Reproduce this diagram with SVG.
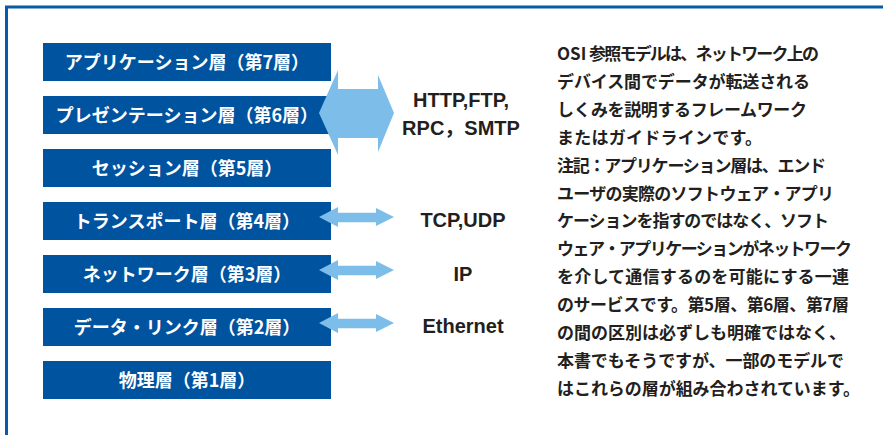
<svg xmlns="http://www.w3.org/2000/svg" width="883" height="435" viewBox="0 0 883 435">
<style>
.box{fill:#00539f}
.bt{font-family:"Noto Sans CJK JP",sans-serif;font-size:18px;font-weight:700;fill:#ffffff;text-anchor:middle}
.arr{fill:#7dbde9}
.pt{font-family:"Liberation Sans","Noto Sans CJK JP",sans-serif;font-size:20px;font-weight:700;fill:#231f20;text-anchor:middle}
.ds{font-family:"Noto Sans CJK JP",sans-serif;font-size:17px;font-weight:700;fill:#231f20}
</style>
<rect x="0" y="0" width="883" height="435" fill="#ffffff"/>
<rect x="6.5" y="7" width="900" height="460" fill="none" stroke="#0a5aa8" stroke-width="3"/>

<g id="layer7"><rect class="box" x="43" y="43" width="288" height="38"/><text class="bt" x="187" y="68.5">アプリケーション層（第7層）</text></g>
<g id="layer6"><rect class="box" x="43" y="96" width="288" height="38"/><text class="bt" x="187" y="121.5">プレゼンテーション層（第6層）</text></g>
<g id="layer5"><rect class="box" x="43" y="149" width="288" height="38"/><text class="bt" x="187" y="174.5">セッション層（第5層）</text></g>
<g id="layer4"><rect class="box" x="43" y="202" width="288" height="38"/><text class="bt" x="187" y="227.5">トランスポート層（第4層）</text></g>
<g id="layer3"><rect class="box" x="43" y="255" width="288" height="38"/><text class="bt" x="187" y="280.5">ネットワーク層（第3層）</text></g>
<g id="layer2"><rect class="box" x="43" y="308" width="288" height="38"/><text class="bt" x="187" y="333.5">データ・リンク層（第2層）</text></g>
<g id="layer1"><rect class="box" x="43" y="361" width="288" height="38"/><text class="bt" x="187" y="386.5">物理層（第1層）</text></g>

<g id="connectors">
<polygon class="arr" points="319,113 338,70 338,89 378,89 378,75 394,113 378,152 378,138 338,138 338,155"/>
<polygon class="arr" points="319,217 338,207 338,212.7 376,212.7 376,208 394,217 376,226 376,222.3 338,222.3 338,227"/>
<polygon class="arr" points="319,270 338,260 338,265.7 376,265.7 376,261 394,270 376,279 376,275.3 338,275.3 338,280"/>
<polygon class="arr" points="319,323 338,313 338,318.7 376,318.7 376,314 394,323 376,332 376,328.3 338,328.3 338,333"/>
</g>

<g id="proto-app"><text class="pt" x="461" y="107">HTTP,FTP,</text><text class="pt" x="461" y="135">RPC，SMTP</text></g>
<g id="proto-transport"><text class="pt" x="463" y="227">TCP,UDP</text></g>
<g id="proto-network"><text class="pt" x="463" y="281">IP</text></g>
<g id="proto-link"><text class="pt" x="463" y="333">Ethernet</text></g>

<g id="description">
<text class="ds" x="557" y="60">OSI <tspan x="589" textLength="230" lengthAdjust="spacing">参照モデルは、ネットワーク上の</tspan></text>
<text class="ds" x="557" y="87.9" textLength="253" lengthAdjust="spacing">デバイス間でデータが転送される</text>
<text class="ds" x="557" y="115.8" textLength="250" lengthAdjust="spacing">しくみを説明するフレームワーク</text>
<text class="ds" x="557" y="143.7" textLength="205" lengthAdjust="spacing">またはガイドラインです。</text>
<text class="ds" x="557" y="171.6" textLength="269" lengthAdjust="spacing">注記：アプリケーション層は、エンド</text>
<text class="ds" x="557" y="199.5" textLength="277" lengthAdjust="spacing">ユーザの実際のソフトウェア・アプリ</text>
<text class="ds" x="557" y="227.4" textLength="272" lengthAdjust="spacing">ケーションを指すのではなく、ソフト</text>
<text class="ds" x="557" y="255.3" textLength="295" lengthAdjust="spacing">ウェア・アプリケーションがネットワーク</text>
<text class="ds" x="557" y="283.2" textLength="292" lengthAdjust="spacing">を介して通信するのを可能にする一連</text>
<text class="ds" x="557" y="311.1" textLength="292" lengthAdjust="spacing">のサービスです。第5層、第6層、第7層</text>
<text class="ds" x="557" y="339" textLength="289" lengthAdjust="spacing">の間の区別は必ずしも明確ではなく、</text>
<text class="ds" x="557" y="366.9" textLength="287" lengthAdjust="spacing">本書でもそうですが、一部のモデルで</text>
<text class="ds" x="557" y="394.8" textLength="303" lengthAdjust="spacing">はこれらの層が組み合わされています。</text>
</g>
</svg>
